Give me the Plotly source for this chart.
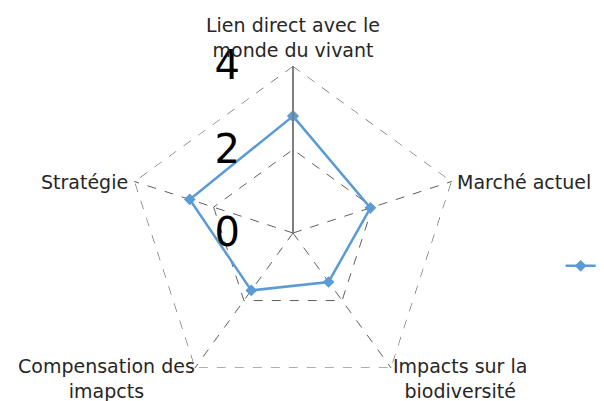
import plotly.graph_objects as go

# Critères (axes du radar), dans l'ordre horaire depuis le haut
criteres = [
    "Lien direct avec le monde du vivant",
    "Marché actuel",
    "Impacts sur la biodiversité",
    "Compensation des imapcts",
    "Stratégie",
]
scores = [2.8, 1.95, 1.45, 1.7, 2.6]

radial_ticks = [0, 2, 4]
radial_labels = ["0", "2", "4"]

blue = "#5b9bd5"
grid = "#5f5f5f"
nb = "\u00a0"
off = 8  # marge du <body> de la page

fig = go.Figure()

# contour extérieur en pointillés (plotly ne trace pas la grille au maximum)
outer = [radial_ticks[-1]] * (len(criteres) + 1)
fig.add_trace(go.Scatterpolar(
    r=outer,
    theta=criteres + criteres[:1],
    mode="lines",
    line=dict(color=grid, width=1.2, dash="dash"),
    hoverinfo="skip",
    showlegend=False,
))

fig.add_trace(go.Scatterpolar(
    r=scores + scores[:1],
    theta=criteres + criteres[:1],
    mode="lines+markers",
    line=dict(color=blue, width=2.5),
    marker=dict(symbol="diamond", size=9, color=blue),
    name=" ",
    showlegend=True,
))

# libellés des critères, placés à côté des sommets comme dans l'original
labels = [
    ("Lien direct avec le<br>monde du vivant", 293, 37, "center"),
    ("Marché actuel", 455, 182, "left"),
    ("Impacts sur la<br>biodiversité", 460, 378, "center"),
    ("Compensation des<br>imapcts", 106, 378, "center"),
    ("Stratégie", 130, 182, "right"),
]
for text, px_x, px_y, anchor in labels:
    fig.add_annotation(
        text=text, xref="paper", yref="paper",
        x=(px_x - off) / 604, y=1 - (px_y - off) / 401,
        xanchor=anchor, yanchor="middle", align="center",
        showarrow=False,
        font=dict(size=19, color="#262626"),
    )

r_max = 4
rad = 167
cx, cy = 293 - off, 233 - off

fig.update_layout(
    width=604,
    height=401,
    paper_bgcolor="white",
    plot_bgcolor="white",
    margin=dict(l=0, r=0, t=0, b=0),
    font=dict(family="DejaVu Sans", color="#404040"),
    showlegend=True,
    legend=dict(
        x=0.915, y=0.357, xanchor="left", yanchor="middle",
        bgcolor="rgba(0,0,0,0)", font=dict(size=12),
    ),
    polar=dict(
        domain=dict(x=[(cx - rad) / 604, (cx + rad) / 604],
                    y=[1 - (cy + rad) / 401, 1 - (cy - rad) / 401]),
        bgcolor="white",
        gridshape="linear",
        radialaxis=dict(
            range=[0, r_max],
            tickvals=radial_ticks,
            ticktext=[t + nb * 3 for t in radial_labels],
            angle=90,
            tickangle=90,
            side="counterclockwise",
            showline=True,
            linecolor="#7f7f7f",
            linewidth=2,
            gridcolor=grid,
            gridwidth=1.2,
            griddash="dash",
            ticks="",
            tickfont=dict(size=40, color="black"),
        ),
        angularaxis=dict(
            rotation=90,
            direction="clockwise",
            showline=False,
            showticklabels=False,
            gridcolor=grid,
            gridwidth=1.2,
            griddash="dash",
            ticks="",
        ),
    ),
)

fig.write_html("out.html")
